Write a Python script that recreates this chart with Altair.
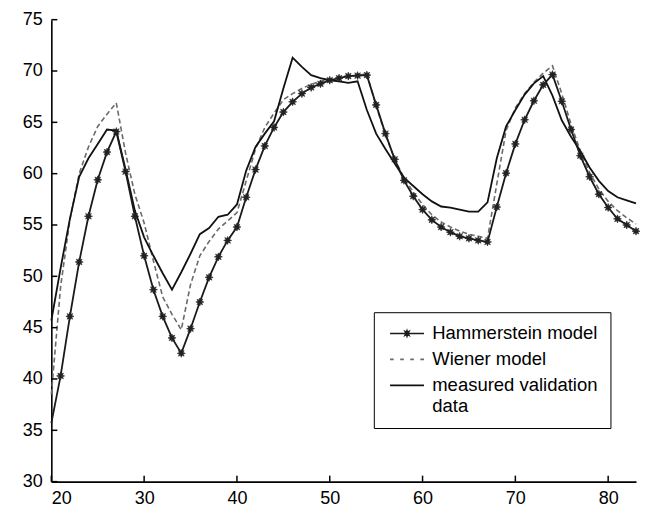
import math
import altair as alt
import pandas as pd

# ---------------- data ----------------
x_values = list(range(20, 84))

hammerstein = [35.7, 40.3, 46.1, 51.4, 55.85, 59.4, 62.1, 64.1, 60.2, 55.85,
               52.0, 48.7, 46.1, 44.0, 42.5, 44.9, 47.5, 49.9, 51.9, 53.5,
               54.8, 57.7, 60.4, 62.7, 64.5, 66.0, 67.0, 67.8, 68.4, 68.75,
               69.1, 69.3, 69.5, 69.55, 69.6, 66.7, 63.9, 61.4, 59.35, 57.8,
               56.5, 55.5, 54.8, 54.3, 53.9, 53.7, 53.5, 53.35, 56.75, 60.05,
               62.9, 65.25, 67.1, 68.65, 69.65, 67.05, 64.3, 61.75, 59.7, 58.0,
               56.7, 55.6, 55.0, 54.4]

wiener = [38.5, 49.0, 55.5, 60.0, 62.6, 64.6, 65.8, 66.9, 62.0, 58.0,
          55.2, 51.5, 48.0, 46.3, 44.8, 49.2, 52.0, 53.4, 54.6, 55.4,
          56.2, 59.3, 62.4, 64.5, 65.9, 67.2, 67.8, 68.3, 68.7, 69.0,
          69.2, 69.4, 69.5, 69.6, 69.7, 66.6, 63.8, 61.4, 59.6, 58.2,
          57.0, 56.0, 55.3, 54.8, 54.4, 54.1, 53.9, 53.7, 59.0, 64.2,
          66.4, 67.8, 68.9, 69.8, 70.5, 67.8, 64.8, 62.2, 60.1, 58.5,
          57.3, 56.4, 55.7, 55.1]

measured = [45.7, 50.8, 55.6, 59.7, 61.5, 62.9, 64.3, 64.2, 60.4, 56.4,
            53.8, 52.0, 50.3, 48.7, 50.4, 52.2, 54.1, 54.7, 55.8, 56.0,
            57.0, 60.3, 62.6, 63.9, 65.1, 68.3, 71.3, 70.4, 69.6, 69.3,
            69.1, 69.0, 68.85, 69.0, 66.2, 63.9, 62.4, 61.0, 59.6, 58.8,
            58.0, 57.3, 56.8, 56.7, 56.5, 56.3, 56.3, 57.2, 61.5, 64.6,
            66.2, 67.7, 68.8, 69.5, 67.6, 65.2, 63.6, 62.2, 60.6, 59.3,
            58.3, 57.7, 57.4, 57.1]

series_names = ["Hammerstein model", "Wiener model", "measured validation data"]
x_ticks = [20, 30, 40, 50, 60, 70, 80]
y_ticks = [30, 35, 40, 45, 50, 55, 60, 65, 70, 75]

# ---------------- styling ----------------
FONT = "Liberation Sans"
W, H = 585.6, 462.7
TICK_LEN = 6


def star_path(r_out, r_in, n=8):
    pts = []
    for k in range(2 * n):
        a = math.pi * k / n
        r = r_out if k % 2 == 0 else r_in
        pts.append((r * math.sin(a), -r * math.cos(a)))
    return "M" + "L".join(f"{px:.3f},{py:.3f}" for px, py in pts) + "Z"


STAR = star_path(1.0, 0.5)
# legend symbols (1 unit = 6 px with symbolSize 144)
LEG_H = "M-2.83,0H2.83" + star_path(0.45, 0.22)
LEG_W = "M-2.83,0H-2.23M-1.14,0H-0.54M0.54,0H1.14M2.23,0H2.83"
LEG_M = "M-2.83,0H2.83"

df = pd.DataFrame({
    "x": x_values * 3,
    "y": hammerstein + wiener + measured,
    "series": [series_names[0]] * len(x_values)
    + [series_names[1]] * len(x_values)
    + [series_names[2]] * len(x_values),
})

legend_df = pd.DataFrame({
    "series": series_names,
    "x": [float("nan")] * 3,
    "y": [float("nan")] * 3,
})

xscale = alt.Scale(domain=[20, 83], nice=False, zero=False)
yscale = alt.Scale(domain=[30, 75], nice=False, zero=False)
x_enc = alt.X("x:Q", scale=xscale, axis=alt.Axis(values=x_ticks, title=None))
y_enc = alt.Y("y:Q", scale=yscale, axis=alt.Axis(values=y_ticks, title=None))

base = alt.Chart(df)

line_h = base.transform_filter(alt.datum.series == series_names[0]).mark_line(
    color="#1a1a1a", strokeWidth=1.8).encode(x=x_enc, y=y_enc)
line_w = base.transform_filter(alt.datum.series == series_names[1]).mark_line(
    color="#6a6a6a", strokeWidth=1.6, strokeDash=[5, 3]).encode(x=x_enc, y=y_enc)
line_m = base.transform_filter(alt.datum.series == series_names[2]).mark_line(
    color="#111111", strokeWidth=1.8).encode(x=x_enc, y=y_enc)

markers = base.transform_filter(alt.datum.series == series_names[0]).transform_filter(
    alt.datum.x > 20).mark_point(
    shape=STAR, filled=True, fill="#222222", stroke="#222222", strokeWidth=0.6,
    size=64, opacity=1).encode(x=x_enc, y=y_enc)

# inward tick marks, placed through the axis scales
xtick_df = pd.DataFrame({"tx": x_ticks})
ytick_df = pd.DataFrame({"ty": y_ticks})
xticks_layer = alt.Chart(xtick_df).mark_rule(color="black", strokeWidth=1.5).encode(
    x=alt.X("tx:Q", scale=xscale), y=alt.value(H), y2=alt.value(H - TICK_LEN))
yticks_layer = alt.Chart(ytick_df).mark_rule(color="black", strokeWidth=1.5).encode(
    y=alt.Y("ty:Q", scale=yscale), x=alt.value(0), x2=alt.value(TICK_LEN))

legend_def = alt.Legend(
    title=None, orient="none", legendX=323, legendY=293,
    labelExpr="datum.label == 'measured validation data' ? ['measured validation', 'data'] : datum.label",
)
legend_layer = alt.Chart(legend_df).mark_point(filled=True, opacity=1).encode(
    x=x_enc, y=y_enc,
    shape=alt.Shape("series:N", scale=alt.Scale(domain=series_names, range=[LEG_H, LEG_W, LEG_M]),
                    legend=legend_def),
    fill=alt.Fill("series:N", scale=alt.Scale(domain=series_names, range=["#222222", "#6a6a6a", "#111111"]),
                  legend=legend_def),
    stroke=alt.Stroke("series:N", scale=alt.Scale(domain=series_names, range=["#1a1a1a", "#6a6a6a", "#111111"]),
                      legend=legend_def),
)

chart = alt.layer(line_w, line_m, line_h, markers, xticks_layer, yticks_layer, legend_layer).properties(
    width=W, height=H,
    autosize=alt.AutoSizeParams(type="none"),
    padding={"left": 43.4, "top": 11.3, "right": 4, "bottom": 26},
).configure_view(stroke=None).configure_axis(
    domainColor="black", domainWidth=1.6, ticks=False, grid=False,
    labelFont=FONT, labelFontSize=18, labelColor="black",
).configure_axisY(labelPadding=9).configure_axisX(labelPadding=8).configure_legend(
    padding=12, strokeColor="black", fillColor="white",
    labelFont=FONT, labelFontSize=18.5, labelColor="black", labelLimit=400,
    symbolSize=144, symbolStrokeWidth=1.6, symbolOffset=12, labelOffset=16,
    rowPadding=7,
)

chart.save("out.html", embed_options={"renderer": "svg", "actions": False})
